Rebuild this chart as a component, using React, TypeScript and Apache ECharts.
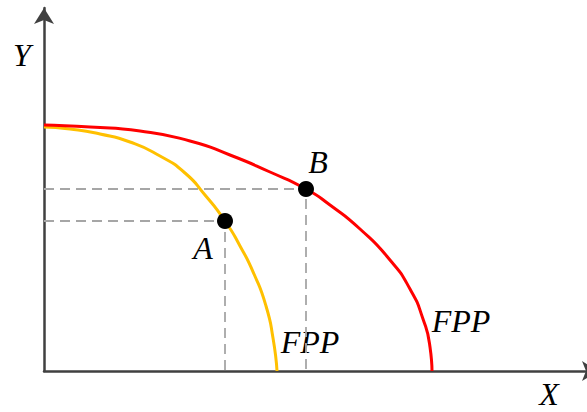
import React, { useEffect, useRef } from "react";
import * as echarts from "echarts";

// Frontier curves (x, y), in axis units
const redX = [0, 46, 96, 146, 186, 226, 262, 286, 316, 346, 366, 379, 386, 388];
const redY = [246, 244, 240, 230, 216, 199, 182, 166, 142, 111, 82, 52, 24, 0];
const orangeX = [0, 26, 56, 86, 116, 141, 161, 181, 196, 210, 222, 229, 233];
const orangeY = [244, 242, 237, 229, 215, 198, 176, 150, 125, 97, 65, 33, 0];
// Points
const pointNames = ["A", "B"];
const pointX = [181, 262];
const pointY = [150, 182];
// Axis extents
const xMax = 554;
const yMax = 363;

const FONT = "Liberation Serif";
const FS = 32;

export default function App() {
  const ref = useRef<HTMLDivElement>(null);
  useEffect(() => {
    if (!ref.current) return;
    const chart = echarts.init(ref.current, null, { renderer: "svg" });
    const red = redX.map((x, i) => [x, redY[i]]);
    const orange = orangeX.map((x, i) => [x, orangeY[i]]);
    const dashed = pointX.map((x, i) => ({
      type: "line",
      data: [
        [0, pointY[i]],
        [x, pointY[i]],
        [x, 0],
      ],
      symbol: "none",
      lineStyle: { color: "#a6a6a6", width: 1.8, type: [10, 6] },
      silent: true,
      z: 1,
    }));
    const txt = {
      fontFamily: FONT,
      fontStyle: "italic" as const,
      fontSize: FS,
      color: "#000",
    };
    const g = (text: string, x: number, y: number) => ({
      type: "text",
      x,
      y,
      style: {
        text,
        fontFamily: FONT,
        fontStyle: "italic",
        fontSize: FS,
        fill: "#000",
        align: "center",
        verticalAlign: "middle",
      },
    });
    const axis = (max: number) => ({
      type: "value",
      min: 0,
      max,
      axisLine: {
        show: true,
        onZero: false,
        symbol: ["none", "arrow"],
        symbolSize: [15, 16],
        lineStyle: { color: "#404040", width: 2.5 },
      },
      axisTick: { show: false },
      axisLabel: { show: false },
      splitLine: { show: false },
    });
    chart.setOption({
      animation: false,
      grid: { left: 44, top: 8, width: xMax, height: yMax, outerBoundsMode: "none", containLabel: false },
      xAxis: axis(xMax),
      yAxis: axis(yMax),
      series: [
        ...dashed,
        {
          type: "line",
          data: orange,
          smooth: 0.6,
          symbol: "none",
          lineStyle: { color: "#ffc000", width: 3 },
          z: 2,
        },
        {
          type: "line",
          data: red,
          smooth: 0.6,
          symbol: "none",
          lineStyle: { color: "#ff0000", width: 3 },
          z: 3,
        },
        {
          type: "scatter",
          data: pointX.map((x, i) => ({
            value: [x, pointY[i]],
            name: pointNames[i],
            label: {
              show: true,
              position: "inside",
              offset: i === 0 ? [-22, 27] : [12, -27],
              formatter: pointNames[i],
              ...txt,
            },
          })),
          symbol: "circle",
          symbolSize: 16,
          itemStyle: { color: "#000", opacity: 1 },
          z: 5,
        },
      ],
      graphic: [
        g("Y", 22, 55),
        g("X", 549, 394),
        g("FPP", 310, 342),
        g("FPP", 461, 321),
      ],
    });
    return () => chart.dispose();
  }, []);
  return <div ref={ref} style={{ width: 587, height: 412, position: "absolute", left: 0, top: 0 }} />;
}
